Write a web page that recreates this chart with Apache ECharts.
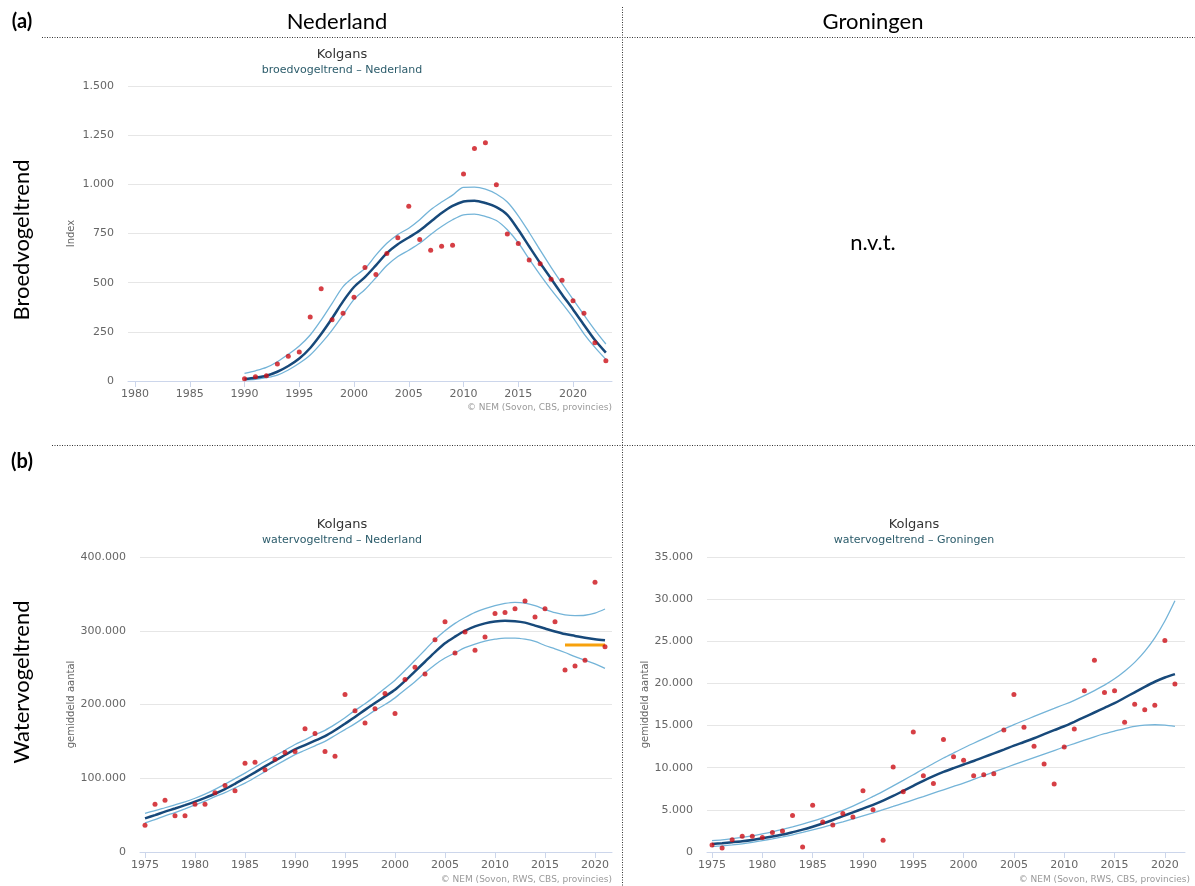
<!DOCTYPE html>
<html><head><meta charset="utf-8">
<script src="https://cdn.jsdelivr.net/npm/echarts@6/dist/echarts.min.js"></script>
<style>html,body{margin:0;padding:0;background:#fff}#c{width:1195px;height:886px}</style>
</head><body><div id="c"></div>
<script>
// ---------- DATA ----------
// (a) Broedvogeltrend Nederland, 1990-2023 (index)
const yearsA = [1990,1991,1992,1993,1994,1995,1996,1997,1998,1999,2000,2001,2002,2003,2004,2005,2006,2007,2008,2009,2010,2011,2012,2013,2014,2015,2016,2017,2018,2019,2020,2021,2022,2023];
const indexA = [12,22,27,87,126,148,325,469,311,345,426,577,542,648,728,888,719,665,685,690,1053,1182,1211,998,747,699,615,596,517,512,408,344,195,103];
const trendA = [10,17,27,47,76,114,168,239,319,405,478,528,588,650,695,730,765,810,854,890,913,917,905,884,845,769,684,600,520,440,364,285,208,144];
const upperA = [39,52,69,98,136,178,234,310,395,480,530,572,640,700,745,777,820,871,910,945,985,986,976,951,910,840,755,665,578,495,415,336,259,188];
const lowerA = [5,8,17,30,56,90,132,191,259,336,415,465,525,587,633,665,700,745,786,820,845,849,837,816,769,703,620,540,465,395,322,240,171,110];

// (b) Watervogeltrend Nederland, 1975-2021 (gemiddeld aantal)
const yearsB = [1975,1976,1977,1978,1979,1980,1981,1982,1983,1984,1985,1986,1987,1988,1989,1990,1991,1992,1993,1994,1995,1996,1997,1998,1999,2000,2001,2002,2003,2004,2005,2006,2007,2008,2009,2010,2011,2012,2013,2014,2015,2016,2017,2018,2019,2020,2021];
const countNL = [36400,64700,70200,49200,49200,64700,64700,80200,90200,82900,120300,121600,111600,125700,134900,136200,167200,160800,136200,129800,213700,191600,174900,194100,215000,187700,233800,250500,241400,287800,312200,269800,298200,273400,291400,323400,324800,329700,340500,318500,329700,312200,246800,252300,259900,365800,278400];
const trendNL = [45600,50000,54700,59000,63500,68300,73500,79000,85200,92500,100200,108000,116000,123900,131500,139000,145000,151000,157000,165000,174000,183000,192700,202000,211000,220000,232000,245000,258000,271000,283000,292000,300000,306000,310000,312500,313500,313000,311000,307000,303000,299000,295500,293000,290500,288500,287000];
const upperNL = [52400,56000,60000,64000,68000,72900,78500,85000,92000,99500,107000,115000,123000,130500,138000,145800,152000,159000,165000,173000,182000,192000,201000,211000,222000,233000,246000,260000,274000,288000,300000,310000,318000,325000,330000,334000,337000,338500,337500,334000,329000,324500,321500,320500,321000,324000,329500];
const lowerNL = [39600,44000,49000,53500,58500,63800,69000,75000,80500,87000,93400,101000,109000,117000,124500,132000,138000,144000,150000,158000,166000,174000,183000,192000,200000,209000,220000,231000,243000,254000,263000,270000,277000,282000,286000,288500,290000,290000,288500,285500,280000,275500,270500,265000,260000,255000,249000];
const refYearsNL = [2017, 2021];
const refLevelNL = [280600, 280600];

// (b) Watervogeltrend Groningen, 1975-2021
const countGR = [833,476,1468,1865,1865,1706,2302,2500,4325,595,5556,3571,3214,4563,4167,7262,5000,1389,10079,7143,14246,9048,8135,13333,11310,10873,9048,9167,9286,14484,18700,14802,12540,10437,8056,12460,14603,19127,22738,18929,19127,15397,17540,16865,17421,25079,19921];
const trendGR = [950,1050,1160,1280,1430,1620,1830,2070,2350,2650,3000,3380,3800,4250,4700,5150,5600,6100,6650,7250,7850,8450,9000,9500,9950,10380,10800,11250,11700,12150,12620,13050,13500,13980,14450,14920,15450,16000,16550,17100,17650,18300,18950,19600,20200,20700,21100];
const upperGR = [1350,1450,1580,1730,1920,2150,2400,2680,2980,3300,3650,4050,4500,4950,5450,6000,6600,7200,7850,8500,9170,9850,10500,11150,11750,12340,12900,13450,14000,14570,15120,15600,16080,16560,17030,17500,18000,18550,19150,19800,20550,21450,22500,23800,25400,27400,29800];
const lowerGR = [640,730,840,970,1140,1350,1560,1790,2040,2320,2620,2930,3250,3580,3930,4290,4650,5020,5400,5790,6190,6580,6980,7380,7780,8180,8620,9060,9500,9930,10360,10780,11200,11620,12040,12460,12870,13280,13670,14030,14350,14650,14900,15050,15100,15050,14900];

const tickYearsA = [1980,1985,1990,1995,2000,2005,2010,2015,2020];
const tickYearsB = [1975,1980,1985,1990,1995,2000,2005,2010,2015,2020];

// ---------- STYLE ----------
const C_PT = '#cc0f17', C_TREND = '#17497a', C_BAND = '#74b4d8', C_REF = '#f7a10c';
const AXFONT = 'DejaVu Sans';
const pairs = (xs, ys) => xs.map((x, i) => [x, ys[i]]);
const fmt = v => String(v).replace(/\B(?=(\d{3})+(?!\d))/g, '.');

function xAxisCfg(gi, min, max, ticks) {
  return {
    type: 'value', gridIndex: gi, min: min, max: max,
    axisLine: {show: true, lineStyle: {color: '#ccd6eb', width: 1}},
    axisTick: {show: true, length: 6, lineStyle: {color: '#ccd6eb'}, customValues: ticks},
    axisLabel: {color: '#666', fontFamily: AXFONT, fontSize: 11, margin: 8, customValues: ticks, formatter: v => String(v)},
    splitLine: {show: false}
  };
}
function yAxisCfg(gi, max, interval, name, gap) {
  return {
    type: 'value', gridIndex: gi, min: 0, max: max, interval: interval,
    name: name, nameLocation: 'middle', nameRotate: 90, nameGap: gap,
    nameTextStyle: {color: '#666', fontFamily: AXFONT, fontSize: 10},
    axisLine: {show: false}, axisTick: {show: false},
    axisLabel: {color: '#666', fontFamily: AXFONT, fontSize: 11, margin: 14, formatter: v => fmt(v)},
    splitLine: {lineStyle: {color: '#e6e6e6', width: 1}}
  };
}
function lineS(gi, data, color, width, z) {
  return {type: 'line', xAxisIndex: gi, yAxisIndex: gi, data: data, smooth: 0.3, showSymbol: false,
          lineStyle: {color: color, width: width}, z: z, silent: true, animation: false};
}
function ptS(gi, data) {
  return {type: 'scatter', xAxisIndex: gi, yAxisIndex: gi, data: data, symbolSize: 5,
          itemStyle: {color: C_PT}, z: 10, animation: false};
}

const HFONT = 'Lato';
const dotted = {stroke: '#333', lineWidth: 1, lineDash: [1, 1.5]};
function txt(x, y, text, opt) {
  return Object.assign({type: 'text', x: x, y: y, style: Object.assign({text: text, fill: '#000', font: '22px ' + HFONT, textAlign: 'center', textVerticalAlign: 'middle'}, opt || {})});
}
const titleStyle = {color: '#333', fontFamily: AXFONT, fontSize: 13, fontWeight: 'normal'};
const subStyle = {color: '#2c5c6b', fontFamily: AXFONT, fontSize: 11};

const option = {
  animation: false,
  title: [
    {text: 'Kolgans', subtext: 'broedvogeltrend – Nederland', left: 337, top: 43, textAlign: 'center', itemGap: 4,
     textStyle: titleStyle, subtextStyle: subStyle},
    {text: 'Kolgans', subtext: 'watervogeltrend – Nederland', left: 337, top: 513, textAlign: 'center', itemGap: 4,
     textStyle: titleStyle, subtextStyle: subStyle},
    {text: 'Kolgans', subtext: 'watervogeltrend – Groningen', left: 909, top: 513, textAlign: 'center', itemGap: 4,
     textStyle: titleStyle, subtextStyle: subStyle}
  ],
  grid: [
    {left: 128, top: 86, width: 484, height: 295},
    {left: 140, top: 557, width: 472, height: 295},
    {left: 707, top: 557, width: 478, height: 295}
  ],
  xAxis: [
    xAxisCfg(0, 1979.36, 2023.56, tickYearsA),
    xAxisCfg(1, 1974.5, 2021.7, tickYearsB),
    xAxisCfg(2, 1974.5, 2022, tickYearsB)
  ],
  yAxis: [
    yAxisCfg(0, 1500, 250, 'Index', 52),
    yAxisCfg(1, 400000, 100000, 'gemiddeld aantal', 63),
    yAxisCfg(2, 35000, 5000, 'gemiddeld aantal', 39)
  ],
  series: [
    lineS(0, pairs(yearsA, upperA), C_BAND, 1.3, 3),
    lineS(0, pairs(yearsA, lowerA), C_BAND, 1.3, 3),
    lineS(0, pairs(yearsA, trendA), C_TREND, 2.5, 4),
    ptS(0, pairs(yearsA, indexA)),
    lineS(1, pairs(yearsB, upperNL), C_BAND, 1.3, 3),
    lineS(1, pairs(yearsB, lowerNL), C_BAND, 1.3, 3),
    lineS(1, pairs(yearsB, trendNL), C_TREND, 2.5, 4),
    lineS(1, pairs(refYearsNL, refLevelNL), C_REF, 3, 5),
    ptS(1, pairs(yearsB, countNL)),
    lineS(2, pairs(yearsB, upperGR), C_BAND, 1.3, 3),
    lineS(2, pairs(yearsB, lowerGR), C_BAND, 1.3, 3),
    lineS(2, pairs(yearsB, trendGR), C_TREND, 2.5, 4),
    ptS(2, pairs(yearsB, countGR))
  ],
  graphic: [
    {type: 'line', shape: {x1: 42, y1: 37.5, x2: 1195, y2: 37.5}, style: dotted, silent: true},
    {type: 'line', shape: {x1: 52, y1: 445.5, x2: 1195, y2: 445.5}, style: dotted, silent: true},
    {type: 'line', shape: {x1: 622.5, y1: 7, x2: 622.5, y2: 886}, style: dotted, silent: true},
    txt(22, 22, '(a)', {font: 'bold 20px ' + HFONT}),
    txt(22, 462, '(b)', {font: 'bold 20px ' + HFONT}),
    txt(337, 22, 'Nederland'),
    txt(873, 22, 'Groningen'),
    txt(873, 243, 'n.v.t.'),
    {type: 'text', x: 22, y: 240, rotation: Math.PI / 2,
     style: {text: 'Broedvogeltrend', fill: '#000', font: '22px ' + HFONT, textAlign: 'center', textVerticalAlign: 'middle'}},
    {type: 'text', x: 22, y: 682, rotation: Math.PI / 2,
     style: {text: 'Watervogeltrend', fill: '#000', font: '22px ' + HFONT, textAlign: 'center', textVerticalAlign: 'middle'}},
    {type: 'text', x: 612, y: 408, style: {text: '© NEM (Sovon, CBS, provincies)', fill: '#999', font: '9px ' + AXFONT, textAlign: 'right', textVerticalAlign: 'middle'}},
    {type: 'text', x: 612, y: 880, style: {text: '© NEM (Sovon, RWS, CBS, provincies)', fill: '#999', font: '9px ' + AXFONT, textAlign: 'right', textVerticalAlign: 'middle'}},
    {type: 'text', x: 1190, y: 880, style: {text: '© NEM (Sovon, RWS, CBS, provincies)', fill: '#999', font: '9px ' + AXFONT, textAlign: 'right', textVerticalAlign: 'middle'}}
  ]
};
const chart = echarts.init(document.getElementById('c'), null, {renderer: 'canvas'});
chart.setOption(option);
</script>
</body></html>
